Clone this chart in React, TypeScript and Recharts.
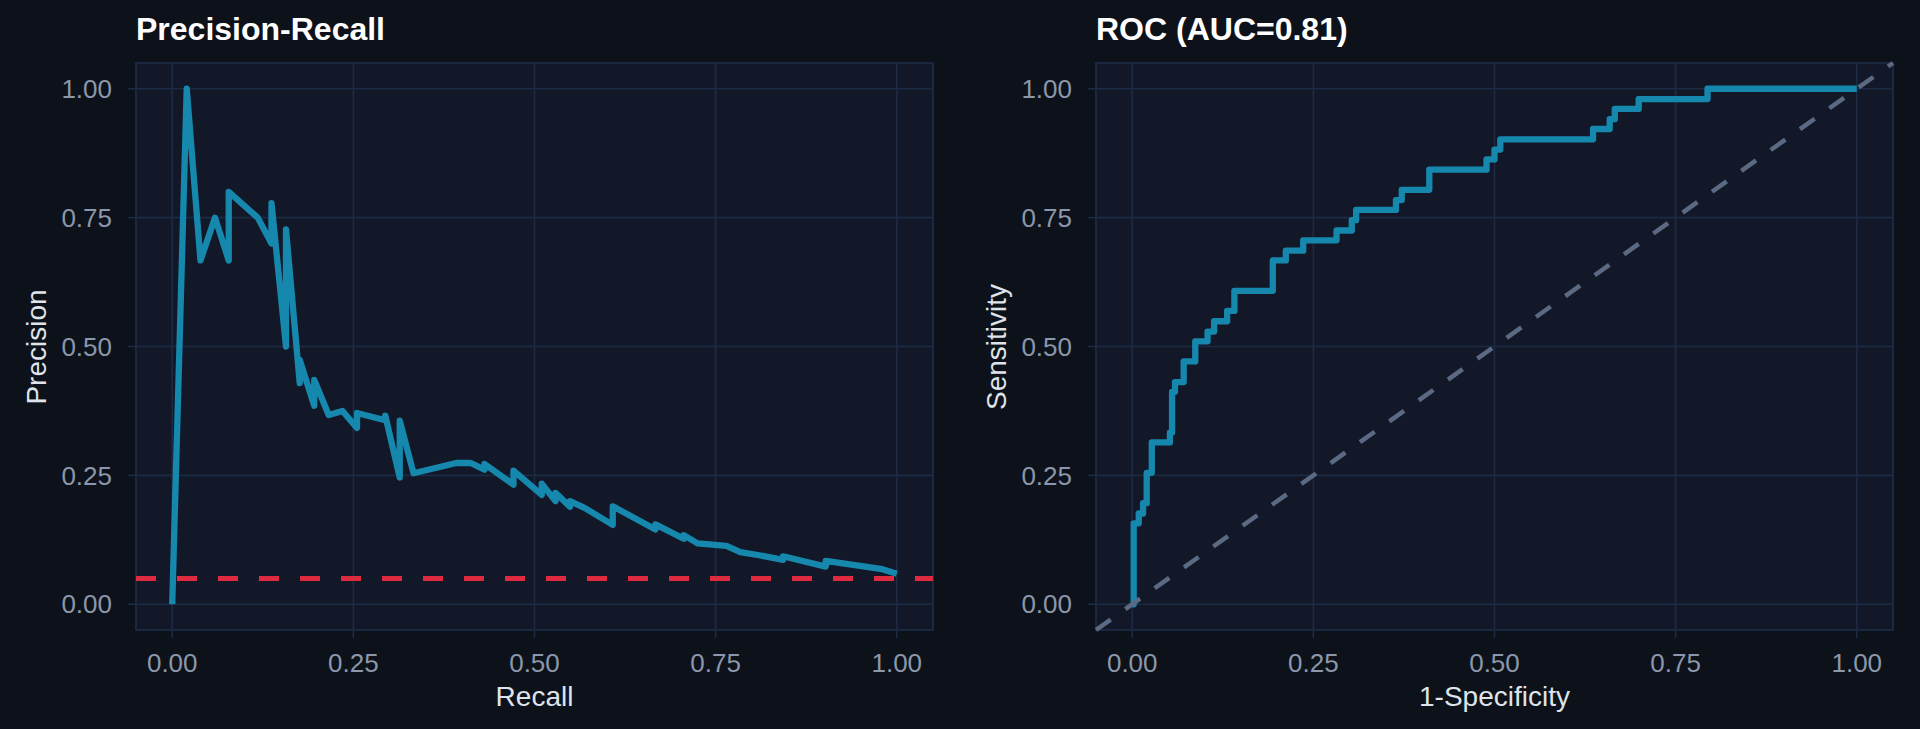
import React from "react";
import {
  LineChart,
  Line,
  XAxis,
  YAxis,
  CartesianGrid,
  ReferenceLine,
  ReferenceArea,
} from "recharts";

// Precision-recall curve, in drawing order
const prRecall = [
  0, 0.02, 0.039, 0.059, 0.078, 0.078, 0.118, 0.137, 0.137, 0.157, 0.157, 0.176,
  0.176, 0.196, 0.196, 0.216, 0.235, 0.255, 0.255, 0.294, 0.294, 0.314, 0.314,
  0.333, 0.392, 0.412, 0.431, 0.431, 0.471, 0.471, 0.51, 0.51, 0.529, 0.529,
  0.549, 0.549, 0.569, 0.608, 0.608, 0.667, 0.667, 0.706, 0.706, 0.725, 0.765,
  0.784, 0.81, 0.843, 0.843, 0.902, 0.902, 0.98, 1.0,
];
const prPrecision = [
  0, 1.0, 0.667, 0.75, 0.667, 0.8, 0.75, 0.7, 0.778, 0.5, 0.727, 0.429, 0.474,
  0.385, 0.435, 0.367, 0.375, 0.342, 0.371, 0.357, 0.366, 0.246, 0.356, 0.254,
  0.274, 0.274, 0.261, 0.272, 0.232, 0.259, 0.212, 0.234, 0.2, 0.216, 0.189,
  0.2, 0.187, 0.154, 0.19, 0.145, 0.155, 0.127, 0.134, 0.118, 0.113, 0.101,
  0.095, 0.086, 0.093, 0.073, 0.084, 0.068, 0.059,
];
const prBaseline = 0.05;

// ROC curve corners (step after)
const rocFpr = [
  0, 0.002, 0.009, 0.015, 0.02, 0.027, 0.052, 0.055, 0.059, 0.071, 0.087, 0.104,
  0.113, 0.131, 0.141, 0.194, 0.212, 0.236, 0.282, 0.303, 0.309, 0.364, 0.372,
  0.41, 0.489, 0.5, 0.508, 0.636, 0.659, 0.666, 0.699, 0.794, 1.0,
];
const rocTpr = [
  0, 0.157, 0.176, 0.196, 0.255, 0.314, 0.333, 0.412, 0.431, 0.471, 0.51, 0.529,
  0.549, 0.569, 0.608, 0.667, 0.686, 0.706, 0.725, 0.745, 0.765, 0.784, 0.804,
  0.843, 0.863, 0.882, 0.902, 0.922, 0.941, 0.961, 0.98, 1.0, 1.0,
];
const chanceLine = [-0.05, 1.05];

const axisTicks = [0, 0.25, 0.5, 0.75, 1];
const axisDomain: [number, number] = [-0.05, 1.05];

const prData = prRecall.map((x, i) => ({ x, y: prPrecision[i] }));
const rocData = rocFpr.map((x, i) => ({ x, y: rocTpr[i] }));

const FONT = '"Liberation Sans", Arial, Helvetica, sans-serif';
const BG = "#0d1119";
const PANEL = "#121828";
const GRID = "#1c2a44";
const TICK_TEXT = "#8b97ab";
const LABEL_TEXT = "#dfe3ea";
const BLUE = "#1688ad";

const W = 960;
const H = 729;
const PLOT_LEFT = 136;
const PLOT_RIGHT = 933;
const PLOT_TOP = 63;
const PLOT_BOTTOM = 630;

function Panel({
  title,
  xLabel,
  yLabel,
  children,
}: {
  title: string;
  xLabel: string;
  yLabel: string;
  children: React.ReactNode;
}) {
  const plotMidY = (PLOT_TOP + PLOT_BOTTOM) / 2;
  return (
    <div style={{ position: "relative", width: W, height: H }}>
      <LineChart
        width={W}
        height={H}
        margin={{ top: PLOT_TOP, right: W - PLOT_RIGHT, bottom: 42, left: 0 }}
      >
        <CartesianGrid fill={PANEL} stroke={GRID} strokeWidth={1.6} />
        <ReferenceArea
          x1={axisDomain[0]}
          x2={axisDomain[1]}
          y1={axisDomain[0]}
          y2={axisDomain[1]}
          fill="none"
          stroke={GRID}
          strokeWidth={1.6}
        />
        <XAxis
          type="number"
          dataKey="x"
          domain={axisDomain}
          ticks={axisTicks}
          allowDataOverflow
          height={57}
          tickFormatter={(v: number) => v.toFixed(2)}
          tick={{ fill: TICK_TEXT, fontSize: 26, fontFamily: FONT }}
          tickLine={{ stroke: GRID, strokeWidth: 1.6 }}
          tickSize={8}
          tickMargin={16}
          axisLine={false}
        />
        <YAxis
          type="number"
          domain={axisDomain}
          ticks={axisTicks}
          allowDataOverflow
          width={PLOT_LEFT}
          tickFormatter={(v: number) => v.toFixed(2)}
          tick={{ fill: TICK_TEXT, fontSize: 26, fontFamily: FONT }}
          tickLine={{ stroke: GRID, strokeWidth: 1.6 }}
          tickSize={8}
          tickMargin={16}
          axisLine={false}
        />
        {children}
      </LineChart>
      <div
        style={{
          position: "absolute",
          left: PLOT_LEFT,
          top: 13,
          fontFamily: FONT,
          fontWeight: "bold",
          fontSize: 32,
          lineHeight: "32px",
          color: "#ffffff",
          whiteSpace: "nowrap",
        }}
      >
        {title}
      </div>
      <div
        style={{
          position: "absolute",
          left: PLOT_LEFT,
          width: PLOT_RIGHT - PLOT_LEFT,
          top: 683,
          textAlign: "center",
          fontFamily: FONT,
          fontSize: 28,
          lineHeight: "28px",
          color: LABEL_TEXT,
        }}
      >
        {xLabel}
      </div>
      <div
        style={{
          position: "absolute",
          left: 37 - 200,
          width: 400,
          top: plotMidY - 14,
          height: 28,
          textAlign: "center",
          fontFamily: FONT,
          fontSize: 28,
          lineHeight: "28px",
          color: LABEL_TEXT,
          transform: "rotate(-90deg)",
          transformOrigin: "50% 50%",
        }}
      >
        {yLabel}
      </div>
    </div>
  );
}

export default function App() {
  return (
    <div
      style={{
        position: "absolute",
        left: 0,
        top: 0,
        width: 1920,
        height: 729,
        background: BG,
        display: "flex",
        overflow: "hidden",
      }}
    >
      <Panel title="Precision-Recall" xLabel="Recall" yLabel="Precision">
        <Line
          data={prData}
          dataKey="y"
          type="linear"
          stroke={BLUE}
          strokeWidth={6.3}
          strokeLinejoin="round"
          dot={false}
          activeDot={false}
          isAnimationActive={false}
        />
        <ReferenceLine
          y={prBaseline}
          stroke="#e02a40"
          strokeWidth={5}
          strokeDasharray="20 21"
        />
      </Panel>
      <Panel title="ROC (AUC=0.81)" xLabel="1-Specificity" yLabel="Sensitivity">
        <Line
          data={rocData}
          dataKey="y"
          type="stepAfter"
          stroke={BLUE}
          strokeWidth={6.3}
          strokeLinejoin="round"
          dot={false}
          activeDot={false}
          isAnimationActive={false}
        />
        <ReferenceLine
          segment={[
            { x: chanceLine[0], y: chanceLine[0] },
            { x: chanceLine[1], y: chanceLine[1] },
          ]}
          stroke="#5b6a82"
          strokeWidth={4.5}
          strokeDasharray="18 18"
        />
      </Panel>
    </div>
  );
}
